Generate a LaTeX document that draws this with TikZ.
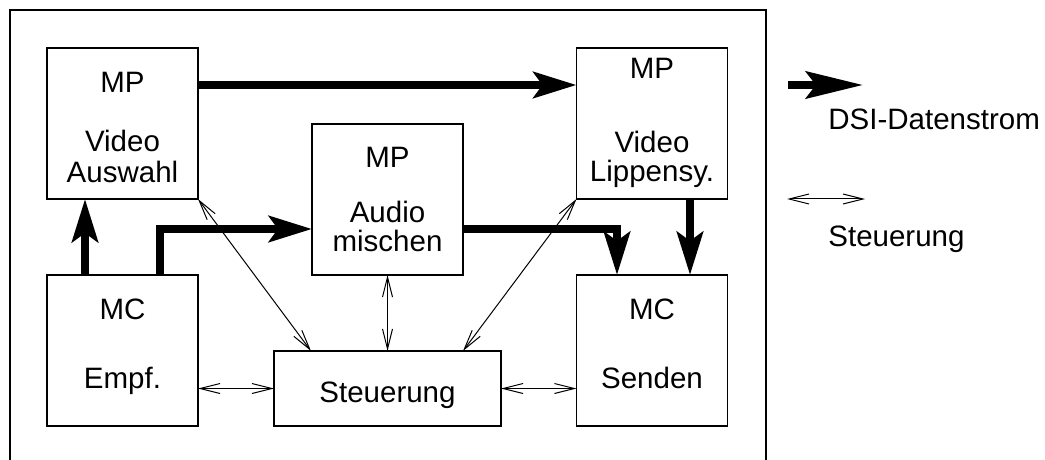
\documentclass[tikz,border=0pt]{standalone}
\usepackage{fontspec}
\setmainfont{Liberation Sans}
\usetikzlibrary{arrows.meta,calc}
\begin{document}
\begin{tikzpicture}[x=0.5pt,y=-0.5pt,
  box/.style={draw, line width=0.75pt, inner sep=0pt, outer sep=0pt, minimum width=75.5pt, minimum height=75.5pt},
  wbox/.style={box, minimum width=113.5pt, minimum height=37.5pt},
  lbl/.style={anchor=base, inner sep=0pt, font=\fontsize{14.75pt}{17pt}\selectfont},
  llbl/.style={lbl, anchor=base west},
  data/.style={line width=4pt, -{Stealth[length=21.5pt,width=13pt,inset=4.5pt]}},
  ctrl/.style={line width=0.5pt, {Straight Barb[length=10pt,width=5pt]}-{Straight Barb[length=10pt,width=5pt]}}
]
\useasboundingbox (0,0) rectangle (1045,460);
\draw[line width=0.75pt] (10,460) -- (10,10) -- (766,10) -- (766,460);

% boxes
\node[box] (aus) at (122.5,123.5) {};
\node[box] (aud) at (387.5,199.5) {};
\node[box] (lip) at (652,123.5) {};
\node[box] (emp) at (122.5,350.5) {};
\node[box] (sen) at (652,350.5) {};
\node[wbox] (steu) at (387.5,388.5) {};

% texts
\node[lbl] (aus1) at (122.5,93) {MP};
\node[lbl] (aus2) at (122.5,152) {Video};
\node[lbl] (aus3) at (122.5,183) {Auswahl};
\node[lbl] (lip1) at (652,79) {MP};
\node[lbl] (lip2) at (652,153) {Video};
\node[lbl] (lip3) at (652,182) {Lippensy.};
\node[lbl] (aud1) at (387.5,168) {MP};
\node[lbl] (aud2) at (387.5,222) {Audio};
\node[lbl] (aud3) at (387.5,251) {mischen};
\node[lbl] (emp1) at (122.5,319) {MC};
\node[lbl] (emp2) at (122.5,388) {Empf.};
\node[lbl] (sen1) at (652,319) {MC};
\node[lbl] (sen2) at (652,388) {Senden};
\node[lbl] (steu1) at (387.5,402) {Steuerung};

% data arrows
\draw[data] ([yshift=19.25pt]aus.east) -- ([yshift=19.25pt]lip.west);
\draw[data] ([xshift=-18.75pt]emp.north) -- ([xshift=-18.75pt]aus.south);
\draw[data] ([xshift=18.75pt]emp.north) |- ([yshift=-14.75pt]aud.west);
\draw[data] ([yshift=-14.5pt]aud.east) -| ([xshift=-17.5pt]sen.north);
\draw[data] ([xshift=19pt]lip.south) -- ([xshift=19pt]sen.north);

% control arrows
\draw[ctrl] (aus.south east) -- ([xshift=-38.25pt]steu.north);
\draw[ctrl] (aud.south) -- (steu.north);
\draw[ctrl] (lip.south west) -- ([xshift=37.75pt]steu.north);
\draw[ctrl] (emp.east |- steu.west) -- (steu.west);
\draw[ctrl] (steu.east) -- (sen.west |- steu.east);

% legend
\coordinate (lga) at (788,85);
\coordinate (lgb) at (863,85);
\draw[line width=4pt, -{Stealth[length=28.5pt,width=13.5pt,inset=5pt]}] (lga) -- (lgb);
\node[llbl] (lg1) at (828,130) {DSI-Datenstrom};
\coordinate (lgc) at (787,199);
\coordinate (lgd) at (865,199);
\draw[ctrl] (lgc) -- (lgd);
\node[llbl] (lg2) at (828,246) {Steuerung};
\end{tikzpicture}
\end{document}
